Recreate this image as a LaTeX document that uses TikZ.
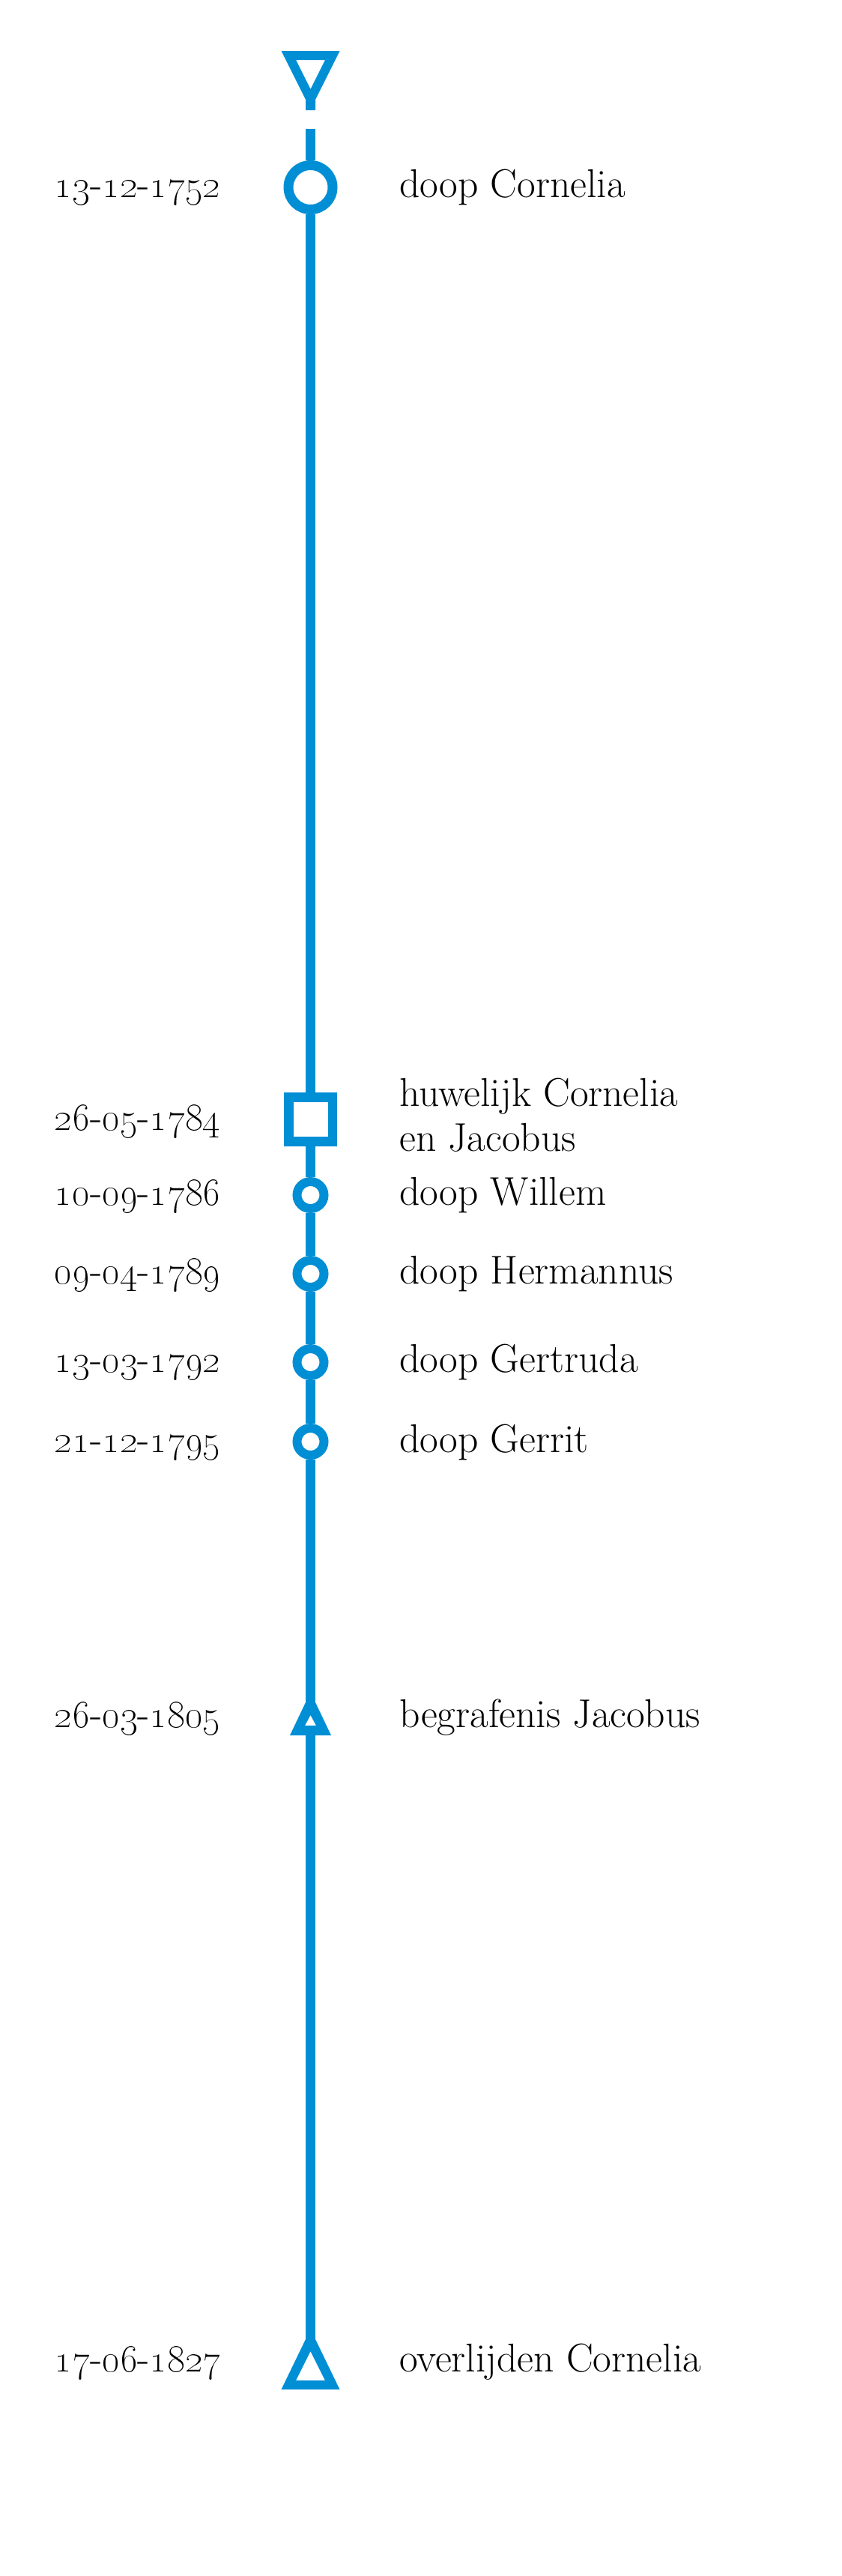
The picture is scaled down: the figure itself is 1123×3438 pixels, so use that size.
\documentclass[tikz,border=0pt]{standalone}
\usepackage{tikz}
\usetikzlibrary{positioning}
\definecolor{tijdblauw}{HTML}{008FD5}
\newcommand{\datum}[3]{\oldstylenums{#1}-\oldstylenums{#2}-\oldstylenums{#3}}

\begin{document}
\begin{tikzpicture}[
  x=0.02cm,y=-0.02cm,
  groot/.style={circle,draw=tijdblauw,fill=white,line width=0.26cm,minimum size=1.18cm,inner sep=0pt},
  klein/.style={circle,draw=tijdblauw,fill=white,line width=0.24cm,minimum size=0.72cm,inner sep=0pt},
  vierkant/.style={rectangle,draw=tijdblauw,fill=white,line width=0.26cm,minimum size=1.18cm,inner sep=0pt},
  lijn/.style={draw=tijdblauw,line width=0.25cm},
  datum/.style={anchor=base east,inner sep=0pt,font=\fontsize{30.5pt}{34pt}\selectfont},
  tekst/.style={anchor=base west,inner sep=0pt,align=left,font=\fontsize{30.5pt}{34pt}\selectfont}
  ]
\def\mx{414.5}
\def\dx{295}
\def\tx{533}
\useasboundingbox (0,0) rectangle (1123,3438);

% begin markering
\fill[tijdblauw,even odd rule] (\mx-39,68) -- (\mx+39,68) -- (\mx+6.5,133) -- (\mx+6.5,147)
  -- (\mx-6.5,147) -- (\mx-6.5,133) -- cycle
  (\mx-19.5,80) -- (\mx+19.5,80) -- (\mx,119) -- cycle;
\coordinate (begin) at (\mx,172);

% gebeurtenissen
\node[groot] (doopC) at (\mx,250) {};
\node[vierkant] (huw) at (\mx,1494) {};
\node[klein] (doopW) at (\mx,1595) {};
\node[klein] (doopH) at (\mx,1700) {};
\node[klein] (doopGt) at (\mx,1818) {};
\node[klein] (doopGr) at (\mx,1924) {};

% begrafenis
\coordinate (begrT) at (\mx,2272);
\coordinate (begrB) at (\mx,2316);
\fill[tijdblauw,even odd rule] (\mx-6.5,2272) -- (\mx+6.5,2272) -- (\mx+27.5,2316) -- (\mx-27.5,2316) -- cycle
  (\mx-7.5,2303) -- (\mx+7.5,2303) -- (\mx,2289) -- cycle;

% overlijden
\coordinate (eind) at (\mx,3122);
\fill[tijdblauw,even odd rule] (\mx-6.5,3122) -- (\mx+6.5,3122) -- (\mx+39,3189) -- (\mx-39,3189) -- cycle
  (\mx-19.5,3177) -- (\mx+19.5,3177) -- (\mx,3138) -- cycle;

% lijnen
\draw[lijn] (begin) -- (doopC);
\draw[lijn] (doopC) -- (huw);
\draw[lijn] (huw) -- (doopW);
\draw[lijn] (doopW) -- (doopH);
\draw[lijn] (doopH) -- (doopGt);
\draw[lijn] (doopGt) -- (doopGr);
\draw[lijn] (doopGr) -- (begrT);
\draw[lijn] (begrB) -- (eind);

% datums
\node[datum] (d1) at (\dx,263) {\datum{13}{12}{1752}};
\node[datum] (d2) at (\dx,1508) {\datum{26}{05}{1784}};
\node[datum] (d3) at (\dx,1608) {\datum{10}{09}{1786}};
\node[datum] (d4) at (\dx,1713) {\datum{09}{04}{1789}};
\node[datum] (d5) at (\dx,1831) {\datum{13}{03}{1792}};
\node[datum] (d6) at (\dx,1938) {\datum{21}{12}{1795}};
\node[datum] (d7) at (\dx,2305) {\datum{26}{03}{1805}};
\node[datum] (d8) at (\dx,3165) {\datum{17}{06}{1827}};

% teksten
\node[tekst] (t1) at (\tx,263) {doop Cornelia};
\node[tekst] (t2) at (\tx,1536) {huwelijk Cornelia\\en Jacobus};
\node[tekst] (t3) at (\tx,1608) {doop Willem};
\node[tekst] (t4) at (\tx,1713) {doop Hermannus};
\node[tekst] (t5) at (\tx,1831) {doop Gertruda};
\node[tekst] (t6) at (\tx,1938) {doop Gerrit};
\node[tekst] (t7) at (\tx,2305) {begrafenis Jacobus};
\node[tekst] (t8) at (\tx,3165) {overlijden Cornelia};
\end{tikzpicture}
\end{document}
